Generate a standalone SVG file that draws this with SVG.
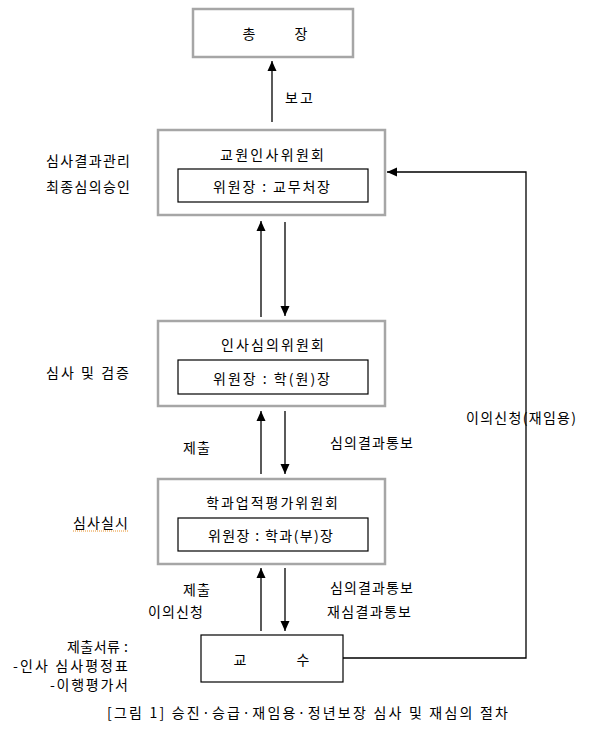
<svg xmlns="http://www.w3.org/2000/svg" width="592" height="738" viewBox="0 0 592 738">
<style>
text{font-family:"Noto Sans CJK KR","Noto Sans",sans-serif;font-size:14px;fill:#000;dominant-baseline:central}
.c{text-anchor:middle}
.outer{fill:#fff;stroke:#a6a6a6;stroke-width:2.5}
.inner{fill:#fff;stroke:#000;stroke-width:1.2}
.ln{fill:none;stroke:#000;stroke-width:1.3}
</style>
<defs>
<marker id="ah" viewBox="0 0 10 10" refX="10" refY="5" markerWidth="10" markerHeight="10" markerUnits="userSpaceOnUse" orient="auto">
<path d="M0,0.5 L10,5 L0,9.5 Z" fill="#000"/>
</marker>
</defs>
<rect width="592" height="738" fill="#fff"/>
<g id="connectors">
<line class="ln" x1="272" y1="122" x2="272" y2="61" marker-end="url(#ah)"/>
<line class="ln" x1="261" y1="317" x2="261" y2="221" marker-end="url(#ah)"/>
<line class="ln" x1="285" y1="222" x2="285" y2="316" marker-end="url(#ah)"/>
<line class="ln" x1="261" y1="474" x2="261" y2="411" marker-end="url(#ah)"/>
<line class="ln" x1="285" y1="411" x2="285" y2="474" marker-end="url(#ah)"/>
<line class="ln" x1="261" y1="631" x2="261" y2="568" marker-end="url(#ah)"/>
<line class="ln" x1="285" y1="568" x2="285" y2="631" marker-end="url(#ah)"/>
<polyline class="ln" points="343,658 526,658 526,172 387,172" marker-end="url(#ah)"/>
<text x="285" y="97" textLength="28" lengthAdjust="spacing">보고</text>
<text x="183" y="447" textLength="27" lengthAdjust="spacing">제출</text>
<text x="330" y="442" textLength="83" lengthAdjust="spacing">심의결과통보</text>
<text x="183" y="589" textLength="27" lengthAdjust="spacing">제출</text>
<text x="148" y="611" textLength="55" lengthAdjust="spacing">이의신청</text>
<text x="330" y="587" textLength="83" lengthAdjust="spacing">심의결과통보</text>
<text x="327" y="611" textLength="84" lengthAdjust="spacing">재심결과통보</text>
<text x="466" y="417" textLength="110" lengthAdjust="spacing">이의신청(재임용)</text>
</g>
<g id="president">
<rect class="outer" x="193" y="9" width="160" height="48"/>
<text x="249" y="33" class="c">총</text>
<text x="301" y="33" class="c">장</text>
</g>
<g id="faculty-personnel-committee">
<rect class="outer" x="158" y="130" width="227" height="85"/>
<text x="220" y="154" textLength="104" lengthAdjust="spacing">교원인사위원회</text>
<rect class="inner" x="178" y="169" width="190" height="33"/>
<text x="213" y="186" textLength="117" lengthAdjust="spacing">위원장 : 교무처장</text>
</g>
<g id="personnel-review-committee">
<rect class="outer" x="158" y="321" width="227" height="85"/>
<text x="221" y="344" textLength="103" lengthAdjust="spacing">인사심의위원회</text>
<rect class="inner" x="178" y="360" width="190" height="34"/>
<text x="213" y="378" textLength="117" lengthAdjust="spacing">위원장 : 학(원)장</text>
</g>
<g id="department-evaluation-committee">
<rect class="outer" x="158" y="479" width="227" height="85"/>
<text x="206" y="502" textLength="132" lengthAdjust="spacing">학과업적평가위원회</text>
<rect class="inner" x="178" y="518" width="190" height="33"/>
<text x="208" y="535" textLength="125" lengthAdjust="spacing">위원장 : 학과(부)장</text>
</g>
<g id="professor">
<rect class="inner" x="201" y="635" width="142" height="47"/>
<text x="240" y="659" class="c">교</text>
<text x="303" y="659" class="c">수</text>
</g>
<g id="side-labels">
<text x="46" y="160" textLength="84" lengthAdjust="spacing">심사결과관리</text>
<text x="46" y="186" textLength="84" lengthAdjust="spacing">최종심의승인</text>
<text x="46" y="372" textLength="83" lengthAdjust="spacing">심사 및 검증</text>
<text x="73" y="522" textLength="55" lengthAdjust="spacing">심사실시</text>
<line x1="73" y1="531" x2="128" y2="531" stroke="#e8912a" stroke-width="1" stroke-dasharray="1,1"/>
<text x="67" y="646" textLength="61" lengthAdjust="spacing">제출서류 :</text>
<text x="13" y="665" textLength="115" lengthAdjust="spacing">-인사 심사평정표</text>
<text x="50" y="684" textLength="78" lengthAdjust="spacing">-이행평가서</text>
</g>
<text x="107" y="712" textLength="401" lengthAdjust="spacing">[그림 1] 승진·승급·재임용·정년보장 심사 및 재심의 절차</text>
</svg>
